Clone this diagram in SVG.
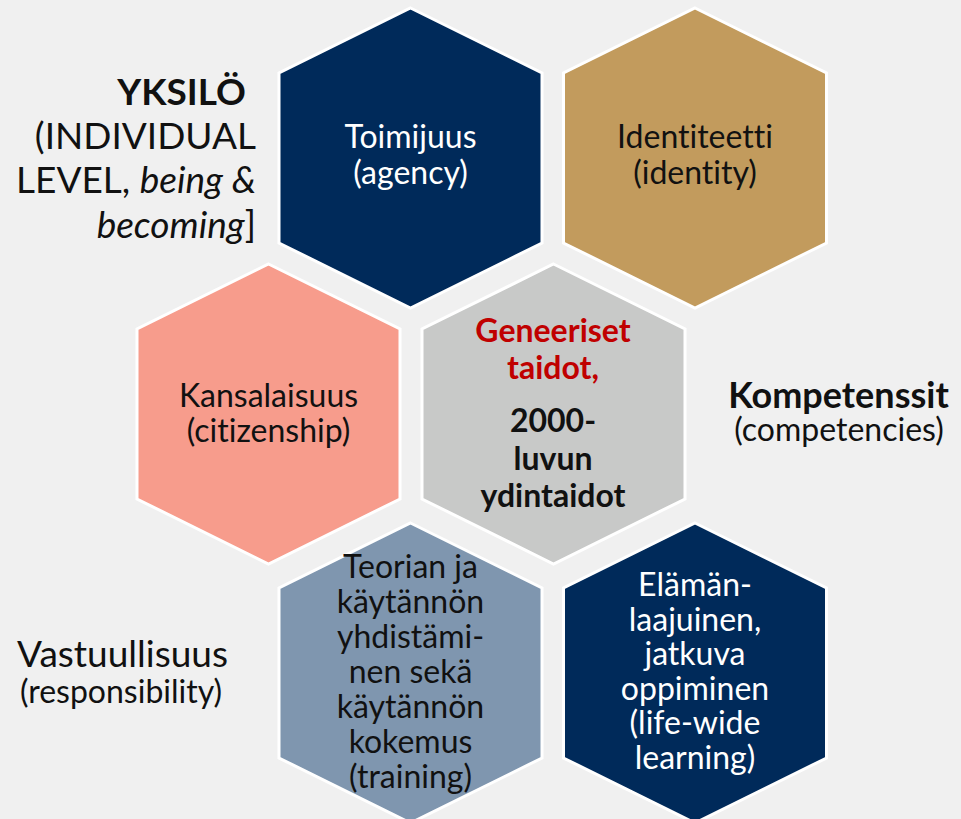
<svg xmlns="http://www.w3.org/2000/svg" xmlns:xlink="http://www.w3.org/1999/xlink" width="961" height="819" viewBox="0 0 961 819">
<style>
text{font-variant-ligatures:none;font-feature-settings:"liga" 0,"dlig" 0,"clig" 0}
.t{font-family:Lato,"Noto Sans","Liberation Sans",sans-serif;font-size:32px;text-anchor:middle}
.w{fill:#ffffff}
.k{fill:#111111}
.side{font-family:Lato,"Noto Sans","Liberation Sans",sans-serif;fill:#111111}
.hex{stroke:#ffffff;stroke-width:3;stroke-linejoin:miter}
</style>
<defs>
<polygon id="hx" points="0,0 131.5,65 131.5,235 0,300 -131.5,235 -131.5,65"/>
</defs>
<rect x="0" y="0" width="961" height="819" fill="#f0f0f0"/>
<g id="connectors"></g>
<g id="hex-toimijuus">
<use xlink:href="#hx" href="#hx" class="hex" fill="#002a5a" transform="translate(410.5,8)"/>
<text class="t w" x="410.5" y="148">Toimijuus</text>
<text class="t w" x="410.5" y="184">(agency)</text>
</g>
<g id="hex-identiteetti">
<use xlink:href="#hx" href="#hx" class="hex" fill="#c29b5d" transform="translate(695,8)"/>
<text class="t k" x="695" y="148">Identiteetti</text>
<text class="t k" x="695" y="184">(identity)</text>
</g>
<g id="hex-kansalaisuus">
<use xlink:href="#hx" href="#hx" class="hex" fill="#f79c8c" transform="translate(268.5,264)"/>
<text class="t k" x="268.5" y="407">Kansalaisuus</text>
<text class="t k" x="268.5" y="442">(citizenship)</text>
</g>
<g id="hex-geneeriset">
<use xlink:href="#hx" href="#hx" class="hex" fill="#c8c9c8" transform="translate(553.5,264)"/>
<text class="t" x="553" y="342" font-weight="bold" fill="#c00000">Geneeriset</text>
<text class="t" x="553" y="379" font-weight="bold" fill="#c00000">taidot, </text>
<text class="t k" x="553" y="432" font-weight="bold">2000-</text>
<text class="t k" x="553" y="470" font-weight="bold">luvun</text>
<text class="t k" x="553" y="507" font-weight="bold">ydintaidot</text>
</g>
<g id="hex-teorian">
<use xlink:href="#hx" href="#hx" class="hex" fill="#7f96af" transform="translate(410.5,523)"/>
<text class="t k" x="410.5" y="578">Teorian ja</text>
<text class="t k" x="410.5" y="613">käytännön</text>
<text class="t k" x="410.5" y="648">yhdistämi-</text>
<text class="t k" x="410.5" y="683">nen sekä</text>
<text class="t k" x="410.5" y="718">käytännön</text>
<text class="t k" x="410.5" y="753">kokemus</text>
<text class="t k" x="410.5" y="788">(training)</text>
</g>
<g id="hex-elaman">
<use xlink:href="#hx" href="#hx" class="hex" fill="#002a5a" transform="translate(695,523)"/>
<text class="t w" x="695" y="596">Elämän-</text>
<text class="t w" x="695" y="630.5">laajuinen,</text>
<text class="t w" x="695" y="665">jatkuva</text>
<text class="t w" x="695" y="699.5">oppiminen</text>
<text class="t w" x="695" y="734">(life-wide</text>
<text class="t w" x="695" y="768.5">learning)</text>
</g>
<g id="label-yksilo" class="side" font-size="37" text-anchor="end">
<text x="246" y="105" font-weight="bold">YKSILÖ</text>
<text x="256" y="149">(INDIVIDUAL</text>
<text x="256" y="193">LEVEL, <tspan font-style="italic">being &amp;</tspan></text>
<text x="256" y="238"><tspan font-style="italic">becoming</tspan>]</text>
</g>
<g id="label-kompetenssit" class="side" text-anchor="middle">
<text x="838.5" y="408" font-size="36" font-weight="bold">Kompetenssit</text>
<text x="839" y="441" font-size="32">(competencies)</text>
</g>
<g id="label-vastuullisuus" class="side" text-anchor="middle">
<text x="122.5" y="667" font-size="37">Vastuullisuus</text>
<text x="121" y="703" font-size="32">(responsibility)</text>
</g>
</svg>
